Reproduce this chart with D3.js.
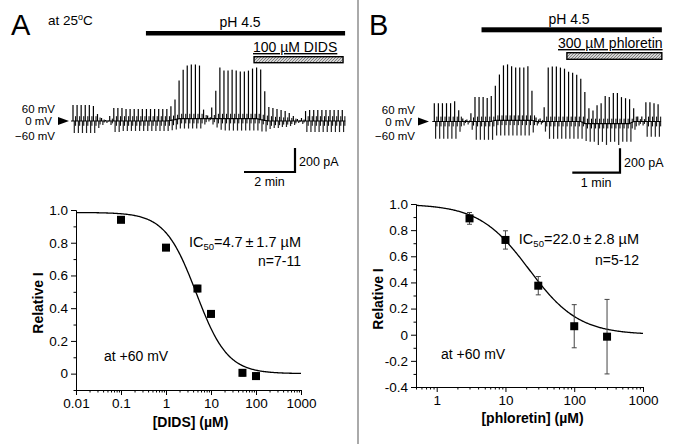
<!DOCTYPE html>
<html><head><meta charset="utf-8">
<script src="https://cdn.jsdelivr.net/npm/d3@7"></script>
<style>
body{margin:0;background:#fff;}
svg{font-family:"Liberation Sans",Arial,Helvetica,sans-serif;display:block;}
</style></head><body>
<svg id="c" width="680" height="444"></svg>
<script>
// ---------------- DATA ----------------
// Dose-response, panel A (DIDS)
const didsConc = [0.1, 1, 5, 10, 50, 100];
const didsRelI = [0.94, 0.77, 0.52, 0.365, 0.005, -0.015];
const didsErr  = [0.01, 0.01, 0.02, 0.02, 0.02, 0.02];
const didsFit  = {top: 0.985, bottom: 0, ic50: 4.7, hill: 1.25};
const didsXTicks = [0.01, 0.1, 1, 10, 100, 1000];
const didsYTicks = [0, 0.2, 0.4, 0.6, 0.8, 1.0];

// Dose-response, panel B (phloretin)
const phlConc = [3, 10, 30, 100, 300];
const phlRelI = [0.89, 0.725, 0.375, 0.065, -0.015];
const phlErr  = [0.045, 0.07, 0.07, 0.165, 0.285];
const phlFit  = {top: 1.0, bottom: 0, ic50: 22.0, hill: 1.2};
const phlXTicks = [1, 10, 100, 1000];
const phlYTicks = [-0.4, -0.2, 0, 0.2, 0.4, 0.6, 0.8, 1.0];

// Current traces: per sweep outward (at +60 mV) and inward (at -60 mV) amplitude, pA; holding shift, pA
const traceAUp = [133,133,133,133,133,125, 58,25,8,42, 108,108,108,100,100,100,100,100,100,100,100,100,100,100,
  117,167,317,408,442,450,450,442, 75,25,92,233,425, 400,400,408,400,392,392,400,417,425,417,
  242,117,108,100,92,83,67,42,17,25, 83,92,92,92,92,92,92,92,92,92];
const traceADown = [100,100,100,100,100,100, 58,33,17,33, 92,92,83,83,83,83,83,83,83,83,83,83,83,83,
  83,83,83,83,83,83,83,83, 50,25,50,75,92, 100,100,100,100,100,100,100,100,100,100,
  92,67,58,58,50,50,42,33,17,25, 92,92,92,92,92,92,92,92,92,92];
const traceABase = [0,0,0,0,0,0,0,0,0,0,0,0,0,0,0,0,0,0,0,0,0,0,0,0,
  5,12,20,20,20,20,20,20,20,20,20,20,20,20,20,20,20,20,20,20,20,20,12,5,
  0,0,0,0,0,0,0,0,0,0,0,0,0,0,0,0,0,0,0];
const traceAInterval = 0.16; // min per sweep

const traceBUp = [150,150,150,150,150,167, 92,25,17,67, 200,200,200,192,208,
  283,375,450,458,442,433,433,433,442, 242,33,25,117,
  442,450,450,442,433,408,400,383,350,258,
  125,108,150,167,225,217,250,250,217,208,200, 108,42,42, 158,158,150,142];
const traceBDown = [142,142,142,142,142,142, 83,33,25,67, 150,150,150,150,150,
  125,125,125,125,125,125,125,125,125, 100,33,25,83,
  142,142,142,142,142,142,142,142,142,142,
  150,150,175,150,175,150,150,175,150,150,150, 67,33,33, 125,125,125,125];
const traceBBase = [0,0,0,0,0,0,0,0,0,0,0,0,0,0,0,
  10,10,10,10,10,10,10,10,10,10,
  0,0,0,0,0,0,0,0,0,0,0,0,
  -17,-17,-17,-17,-17,-17,-17,-17,-17,-17,-17,-17,
  0,0,0,0,0,0,0];
const traceBInterval = 0.0853; // min per sweep

// Solution applications (minutes from trace start)
const appsA = [{label: "pH 4.5", start: 2.86, end: 10.67, kind: "solid"},
               {label: "100 \u00B5M DIDS", start: 7.1, end: 10.59, kind: "hatch"}];
const appsB = [{label: "pH 4.5", start: 0.99, end: 4.77, kind: "solid"},
               {label: "300 \u00B5M phloretin", start: 2.78, end: 4.77, kind: "hatch"}];

const voltageLabels = ["60 mV", "0 mV", "\u221260 mV"];

// ---------------- DRAWING ----------------
const svg = d3.select("#c");
const defs = svg.append("defs");
const pat = defs.append("pattern").attr("id","hatch").attr("patternUnits","userSpaceOnUse")
  .attr("width",3).attr("height",3);
pat.append("rect").attr("width",3).attr("height",3).attr("fill","#d4d4d4");
pat.append("path").attr("d","M0,3 L3,0 M-1,1 L1,-1 M2,4 L4,2").attr("stroke","#6a6a6a").attr("stroke-width",0.8);

// separator
svg.append("line").attr("x1",358).attr("x2",358).attr("y1",0).attr("y2",444)
  .attr("stroke","#aaa").attr("stroke-width",2);

function fmtY(v){ return v === 0 ? "0" : (v < 0 ? "-" : "") + Math.abs(v).toFixed(1); }
function minorLog([a,b]){
  const out=[];
  for(let e=Math.floor(Math.log10(a)); e<=Math.ceil(Math.log10(b)); e++)
    for(let k=2;k<=9;k++){ const v=k*Math.pow(10,e); if(v>=a*0.999 && v<=b*1.001) out.push(v); }
  return out;
}
function styleAxis(g, fs){
  g.attr("font-family",null).attr("font-size",null);
  g.selectAll("path,line").attr("stroke","#000").attr("stroke-width",1);
  g.selectAll("text").attr("fill","#000").style("font-size",fs+"px");
}

function drawDose(c){
  const g = svg.append("g");
  const x = d3.scaleLog().domain(c.xDomain).range(c.xRange);
  const y = d3.scaleLinear().domain(c.yDomain).range(c.yRange);
  // minor ticks
  const gxm = g.append("g").attr("transform",`translate(0,${c.yRange[0]})`)
    .call(d3.axisBottom(x).tickValues(minorLog(c.xDomain)).tickSize(2.5).tickSizeOuter(0).tickFormat(""));
  styleAxis(gxm, 13.5);
  const yMinor = d3.range(c.yDomain[0], c.yDomain[1]+1e-9, 0.1).map(v=>+v.toFixed(2))
    .filter(v=>!c.yTicks.some(t=>Math.abs(t-v)<1e-6));
  const gym = g.append("g").attr("transform",`translate(${c.xRange[0]},0)`)
    .call(d3.axisLeft(y).tickValues(yMinor).tickSize(2.5).tickSizeOuter(0).tickFormat(""));
  styleAxis(gym, 13.5);
  // major
  const gx = g.append("g").attr("transform",`translate(0,${c.yRange[0]})`)
    .call(d3.axisBottom(x).tickValues(c.xTicks).tickFormat(d=>String(d)).tickSize(5).tickSizeOuter(0).tickPadding(3));
  styleAxis(gx, 13.5);
  const gy = g.append("g").attr("transform",`translate(${c.xRange[0]},0)`)
    .call(d3.axisLeft(y).tickValues(c.yTicks).tickFormat(fmtY).tickSize(5).tickSizeOuter(0).tickPadding(3));
  styleAxis(gy, 13.5);
  // titles
  g.append("text").attr("x",(c.xRange[0]+c.xRange[1])/2 + c.xTitleDx).attr("y",c.xTitleY)
    .attr("text-anchor","middle").attr("font-weight","bold").style("font-size","14px").text(c.xTitle);
  g.append("text").attr("transform",`translate(${c.yTitleX},${c.yTitleY}) rotate(-90)`)
    .attr("text-anchor","middle").attr("font-weight","bold").style("font-size","14px").text("Relative I");
  // fit curve
  const f = c.fit;
  const la = Math.log10(c.xDomain[0]), lb = Math.log10(c.xDomain[1]);
  const pts = d3.range(0,301).map(k=>{ const cc = Math.pow(10, la + (lb-la)*k/300);
    return [cc, f.bottom + (f.top-f.bottom)/(1+Math.pow(cc/f.ic50, f.hill))]; });
  g.append("path").datum(pts).attr("fill","none").attr("stroke","#000").attr("stroke-width",1.3)
    .attr("d", d3.line().x(d=>x(d[0])).y(d=>y(d[1])));
  // error bars
  const data = c.conc.map((cc,i)=>({c:cc, v:c.val[i], e:c.err[i]}));
  const eb = g.append("g").attr("stroke","#444").attr("stroke-width",1);
  data.forEach(d=>{
    eb.append("line").attr("x1",x(d.c)).attr("x2",x(d.c)).attr("y1",y(d.v-d.e)).attr("y2",y(d.v+d.e));
    [d.v-d.e, d.v+d.e].forEach(vv=> eb.append("line").attr("x1",x(d.c)-2.5).attr("x2",x(d.c)+2.5).attr("y1",y(vv)).attr("y2",y(vv)));
  });
  // markers
  g.selectAll("rect.m").data(data).enter().append("rect")
    .attr("x",d=>x(d.c)-4).attr("y",d=>y(d.v)-4).attr("width",8).attr("height",8).attr("fill","#000");
  // annotations
  const t1 = g.append("text").attr("x",c.icX).attr("y",c.icY).attr("text-anchor","end").style("font-size","14.5px");
  t1.append("tspan").text("IC");
  t1.append("tspan").attr("dy",3).style("font-size","9.5px").text("50");
  t1.append("tspan").attr("dy",-3).text(c.icText);
  g.append("text").attr("x",c.icX).attr("y",c.nY).attr("text-anchor","end").style("font-size","14px").text(c.nText);
  g.append("text").attr("x",c.atX).attr("y",c.atY).style("font-size","14px").text("at +60 mV");
}

drawDose({xDomain:[0.01,1000], xRange:[76,301], yDomain:[-0.1,1.0], yRange:[390,210],
  xTicks:didsXTicks, yTicks:didsYTicks, conc:didsConc, val:didsRelI, err:didsErr, fit:didsFit,
  xTitle:"[DIDS] (\u00B5M)", xTitleDx:2, xTitleY:427, yTitleX:43, yTitleY:303,
  icX:301, icY:247, icText:"=4.7\u2009\u00B1\u20091.7 \u00B5M", nY:266, nText:"n=7-11", atX:104, atY:361});
drawDose({xDomain:[0.5,1000], xRange:[416,643], yDomain:[-0.4,1.0], yRange:[387,204],
  xTicks:phlXTicks, yTicks:phlYTicks, conc:phlConc, val:phlRelI, err:phlErr, fit:phlFit,
  xTitle:"[phloretin] (\u00B5M)", xTitleDx:3, xTitleY:423, yTitleX:383, yTitleY:299,
  icX:639, icY:244, icText:"=22.0\u2009\u00B1\u20092.8 \u00B5M", nY:265, nText:"n=5-12", atX:441, atY:359});

function drawTrace(c){
  const g = svg.append("g");
  const t = d3.scaleLinear().domain([0,1]).range([c.x0, c.x0 + c.pxPerMin]);
  const y = d3.scaleLinear().domain([0,200]).range([c.y0, c.y0 - c.px200]);
  const n = c.up.length;
  // baseline (holding current)
  const bl = d3.range(n).map(i=>[t(i*c.interval), c.base[i]]);
  bl.unshift([t(0)-2, c.base[0]]); bl.push([t((n-1)*c.interval)+3, c.base[n-1]]);
  g.append("path").datum(bl).attr("fill","none").attr("stroke","#000").attr("stroke-width",1.2)
    .attr("d", d3.line().x(d=>d[0]).y(d=>y(d[1])));
  const sw = g.append("g").attr("stroke","#000");
  for(let i=0;i<n;i++){
    const xx = t(i*c.interval), b = c.base[i];
    sw.append("line").attr("x1",xx).attr("x2",xx).attr("y1",y(b)).attr("y2",y(b+c.up[i])).attr("stroke-width",1.2);
    sw.append("line").attr("x1",xx+1.3).attr("x2",xx+1.3).attr("y1",y(b)).attr("y2",y(b-c.down[i])).attr("stroke-width",1.2).attr("stroke","#222");
    const s = Math.min(40, c.up[i]*0.5, c.down[i]*0.6);
    sw.append("line").attr("x1",xx+2.6).attr("x2",xx+2.6).attr("y1",y(b-s)).attr("y2",y(b+s)).attr("stroke-width",1);
  }
  // application bars
  c.apps.forEach((a,k)=>{
    const L = c.appY[k];
    if(a.kind==="solid"){
      g.append("rect").attr("x",t(a.start)).attr("y",L.y).attr("width",t(a.end)-t(a.start)).attr("height",L.h).attr("fill","#000");
      g.append("text").attr("x",L.tx).attr("y",L.ty).attr("text-anchor","middle").style("font-size","14px").text(a.label);
    } else {
      g.append("rect").attr("x",t(a.start)).attr("y",L.y).attr("width",t(a.end)-t(a.start)).attr("height",L.h)
        .attr("fill","url(#hatch)").attr("stroke","#000").attr("stroke-width",1.4);
      g.append("text").attr("x",L.tx).attr("y",L.ty).style("font-size","14px")
        .style("text-decoration","underline").text(a.label);
    }
  });
  // voltage labels + arrow
  const vy = [c.y0-8, c.y0+4, c.y0+18.5];
  voltageLabels.forEach((s,k)=> g.append("text").attr("x", k===1 ? c.vx-3 : c.vx).attr("y",vy[k])
    .attr("text-anchor","end").style("font-size","11.5px").text(s));
  g.append("path").attr("d",`M${c.vx+3},${c.y0-4} L${c.vx+14},${c.y0} L${c.vx+3},${c.y0+4} Z`).attr("fill","#000");
  // scale bars
  const sb = g.append("g").attr("stroke","#000").attr("stroke-width",2.2).attr("fill","none");
  const bx = c.sbX, by = c.sbY;
  const h = y(0)-y(200), w = t(c.sbMin)-t(0);
  sb.append("path").attr("d",`M${bx-w},${by} L${bx},${by} L${bx},${by-h}`);
  g.append("text").attr("x",bx+4).attr("y",by-6).style("font-size","12.5px").text("200 pA");
  g.append("text").attr("x",bx-w/2).attr("y",by+14).attr("text-anchor","middle").style("font-size","12.5px").text(c.sbMin+" min");
}

drawTrace({x0:73, pxPerMin:25.5, y0:121, px200:24, interval:traceAInterval,
  up:traceAUp, down:traceADown, base:traceABase, apps:appsA,
  appY:[{y:31,h:4.5,tx:240,ty:27},{y:56.7,h:6,tx:253,ty:52}],
  vx:55, sbX:295, sbY:172, sbMin:2});
drawTrace({x0:434.3, pxPerMin:47.7, y0:121.5, px200:24.4, interval:traceBInterval,
  up:traceBUp, down:traceBDown, base:traceBBase, apps:appsB,
  appY:[{y:27.3,h:5,tx:569,ty:24},{y:52.7,h:6.6,tx:558,ty:48}],
  vx:415, sbX:620, sbY:172.7, sbMin:1});

// panel letters
svg.append("text").attr("x",11).attr("y",35).style("font-size","29px").text("A");
svg.append("text").attr("x",369).attr("y",35).style("font-size","29px").text("B");
const tc = svg.append("text").attr("x",48).attr("y",25).style("font-size","13.5px");
tc.append("tspan").text("at 25");
tc.append("tspan").attr("dy",-5).style("font-size","9px").text("o");
tc.append("tspan").attr("dy",5).text("C");
</script>
</body></html>
